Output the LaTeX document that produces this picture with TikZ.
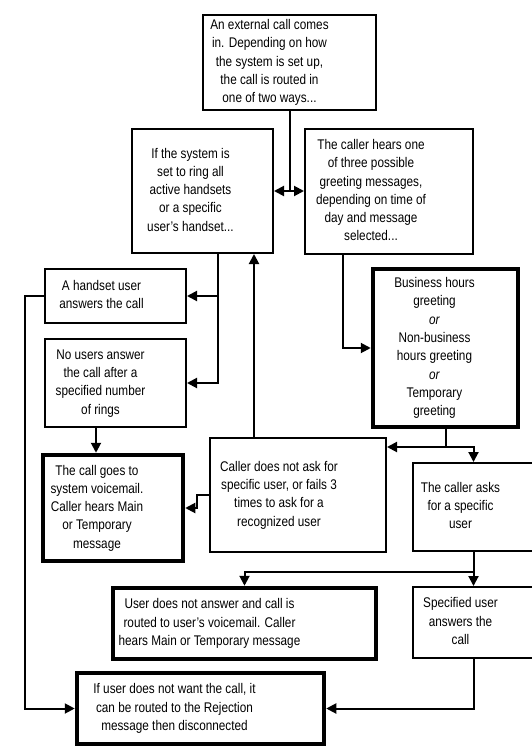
\documentclass[tikz,border=0pt]{standalone}
\usepackage{fontspec}
\setmainfont[FakeStretch=0.84]{Liberation Sans}
\usetikzlibrary{arrows.meta}

% text lines of a box, moved left by #1
\newcommand{\boxlines}[2]{\kern-2\dimexpr#1\relax\begin{tabular}{@{}c@{}}#2\end{tabular}}

\begin{document}
\begin{tikzpicture}[x=1pt, y=-1pt,
    every node/.style={draw, rectangle, line width=2pt, inner sep=0pt,
        font=\fontsize{14}{18.3}\selectfont},
    final/.style={line width=4.5pt},
    >={Triangle[length=10pt, width=10pt]},
    link/.style={line width=2pt, ->},
    ]
  \useasboundingbox (0,0) rectangle (531,746);

  \node[minimum width=173, minimum height=95] (external) at (289.5,62.5)
      {\boxlines{20pt}{An external call comes\\ in. Depending on how\\ the system is set up,\\ the call is routed in\\ one of two ways...}};
  \node[minimum width=141, minimum height=124] (ring) at (202.5,191)
      {\boxlines{12pt}{If the system is\\ set to ring all\\ active handsets\\ or a specific\\ user's handset...}};
  \node[minimum width=168, minimum height=125] (greet) at (389,191.5)
      {\boxlines{18pt}{The caller hears one\\ of three possible\\ greeting messages,\\ depending on time of\\ day and message\\ selected...}};
  \node[final, minimum width=145, minimum height=158] (choice) at (445.5,348)
      {\boxlines{11pt}{Business hours\\ greeting\\ \textit{or}\\ Non-business\\ hours greeting\\ \textit{or}\\ Temporary\\ greeting}};
  \node[minimum width=141, minimum height=54] (answer) at (115.5,296)
      {\boxlines{14pt}{A handset user\\ answers the call}};
  \node[minimum width=141, minimum height=88] (noans) at (115.5,383)
      {\boxlines{15pt}{No users answer\\ the call after a\\ specified number\\ of rings}};
  \node[final, minimum width=140, minimum height=106] (sysvm) at (113,508)
      {\boxlines{16pt}{The call goes to\\ system voicemail.\\ Caller hears Main\\ or Temporary\\ message}};
  \node[minimum width=176, minimum height=114] (noask) at (298,495)
      {\boxlines{19pt}{Caller does not ask for\\ specific user, or fails 3\\ times to ask for a\\ recognized user}};
  \node[minimum width=121, minimum height=88] (asks) at (473.5,507)
      {\boxlines{13pt}{The caller asks\\ for a specific\\ user}};
  \node[final, minimum width=263, minimum height=71] (uservm) at (244.5,623.5)
      {\boxlines{35pt}{User does not answer and call is\\ routed to user's voicemail. Caller\\ hears Main or Temporary message}};
  \node[minimum width=121, minimum height=71] (spec) at (473.5,622.5)
      {\boxlines{13pt}{Specified user\\ answers the\\ call}};
  \node[final, minimum width=247, minimum height=71] (reject) at (200.5,708.5)
      {\boxlines{26pt}{If user does not want the call, it\\ can be routed to the Rejection\\ message then disconnected}};

  % routing of the incoming call
  \draw[line width=2pt] (external.south) -- (external.south |- ring.east);
  \draw[link, <->] (ring.east) -- (ring.east -| greet.west);
  \draw[link] ([xshift=15.5]ring.south) |- (answer.east);
  \draw[link] ([xshift=15.5]ring.south) |- (noans.east);
  \draw[link] ([xshift=-19.5]noans.south) -- ([xshift=-19.5]noans.south |- sysvm.north);
  \draw[link] ([xshift=-46]greet.south) |- (choice.west);

  % after the greeting
  \coordinate (split) at (choice.south |- 0,447);
  \draw[link] (choice.south) |- (noask.east |- split);
  \draw[link] (split) -| (asks.north);
  \draw[link] ([xshift=-44]noask.north) -- ([xshift=-44]noask.north |- ring.south);
  \draw[link] (noask.west) -- ++(-12,0) |- (sysvm.east);
  \draw[link] (asks.south) -- ++(0,20) coordinate (fork) -| (uservm.north);
  \draw[link] (fork) -- (spec.north);

  % rejection
  \draw[link] (answer.west) -- ++(-19,0) |- (reject.west);
  \draw[link] (spec.south) |- (reject.east);
\end{tikzpicture}
\end{document}
